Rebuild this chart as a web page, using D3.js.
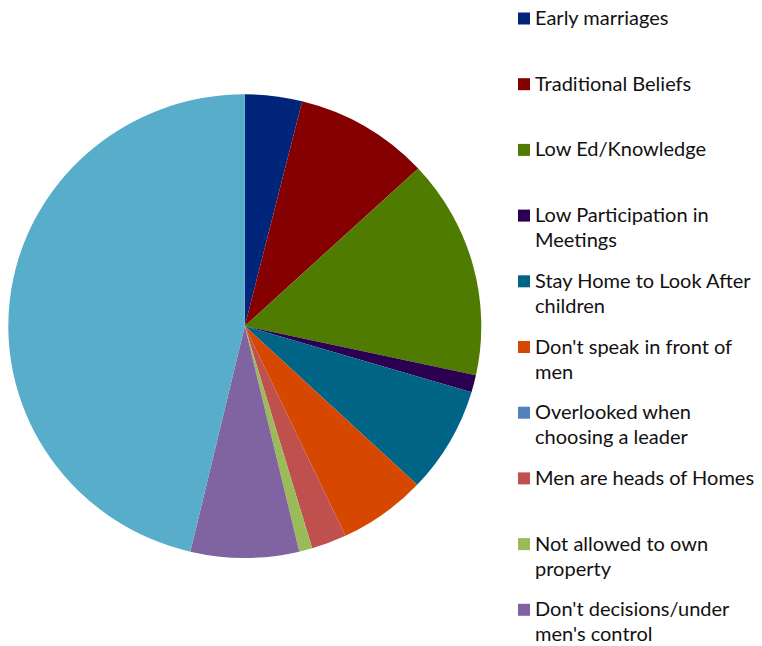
<!DOCTYPE html>
<html>
<head>
<meta charset="utf-8">
<script src="https://cdn.jsdelivr.net/npm/d3@7/dist/d3.min.js"></script>
<style>
  html, body { margin: 0; padding: 0; background: #fff; }
  svg { display: block; }
  .legend text { font-family: Lato, "Open Sans", sans-serif; font-size: 20px; fill: #111; }
</style>
</head>
<body>
<svg id="chart" width="762" height="646"></svg>
<script>
// Reasons given, as lines of the legend label (wrapped as shown in the legend)
const legendLines = [
  ["Early marriages"],
  ["Traditional Beliefs"],
  ["Low Ed/Knowledge"],
  ["Low Participation in", "Meetings"],
  ["Stay Home to Look After", "children"],
  ["Don't speak in front of", "men"],
  ["Overlooked when", "choosing a leader"],
  ["Men are heads of Homes"],
  ["Not allowed to own", "property"],
  ["Don't decisions/under", "men's control"],
  ["Other"]
];
const categories = legendLines.map(l => l.join(" "));

// Share of responses (%)
const values = [3.9, 9.2, 15.3, 1.2, 7.4, 6.0, 0, 2.4, 0.9, 7.4, 46.3];

const colors = [
  "#00257a", "#850000", "#4e7b00", "#2b0050", "#006487", "#d64700",
  "#4f81bd", "#c0504d", "#9bbb59", "#8064a2", "#58adca"
];

const data = categories.map((c, i) => ({ name: c, value: values[i], lines: legendLines[i] }));

const svg = d3.select("#chart");
const W = +svg.attr("width"), H = +svg.attr("height");

const color = d3.scaleOrdinal().domain(categories).range(colors);

// Pie, clockwise from 12 o'clock in data order
const pie = d3.pie().sort(null).value(d => d.value);
const rx = 236.5, ry = 231.8;
const arc = d3.arc().innerRadius(0).outerRadius(rx);

svg.append("g")
  .attr("transform", `translate(244.8,326.1) scale(1,${ry / rx})`)
  .selectAll("path")
  .data(pie(data))
  .join("path")
  .attr("d", arc)
  .attr("fill", d => color(d.data.name));

// Legend on the right
const legendX = 518, textX = 535, firstBaseline = 25, step = 65.7, lineH = 25, sw = 12;
const legend = svg.append("g").attr("class", "legend");
data.forEach((d, i) => {
  const y = firstBaseline + i * step;
  if (y > H) return;
  const g = legend.append("g");
  g.append("rect")
    .attr("x", legendX).attr("y", y - 12.5)
    .attr("width", sw).attr("height", sw)
    .attr("fill", color(d.name));
  const t = g.append("text").attr("x", textX).attr("y", y);
  d.lines.forEach((ln, k) => {
    t.append("tspan").attr("x", textX).attr("y", y + k * lineH).text(ln);
  });
});
</script>
</body>
</html>
